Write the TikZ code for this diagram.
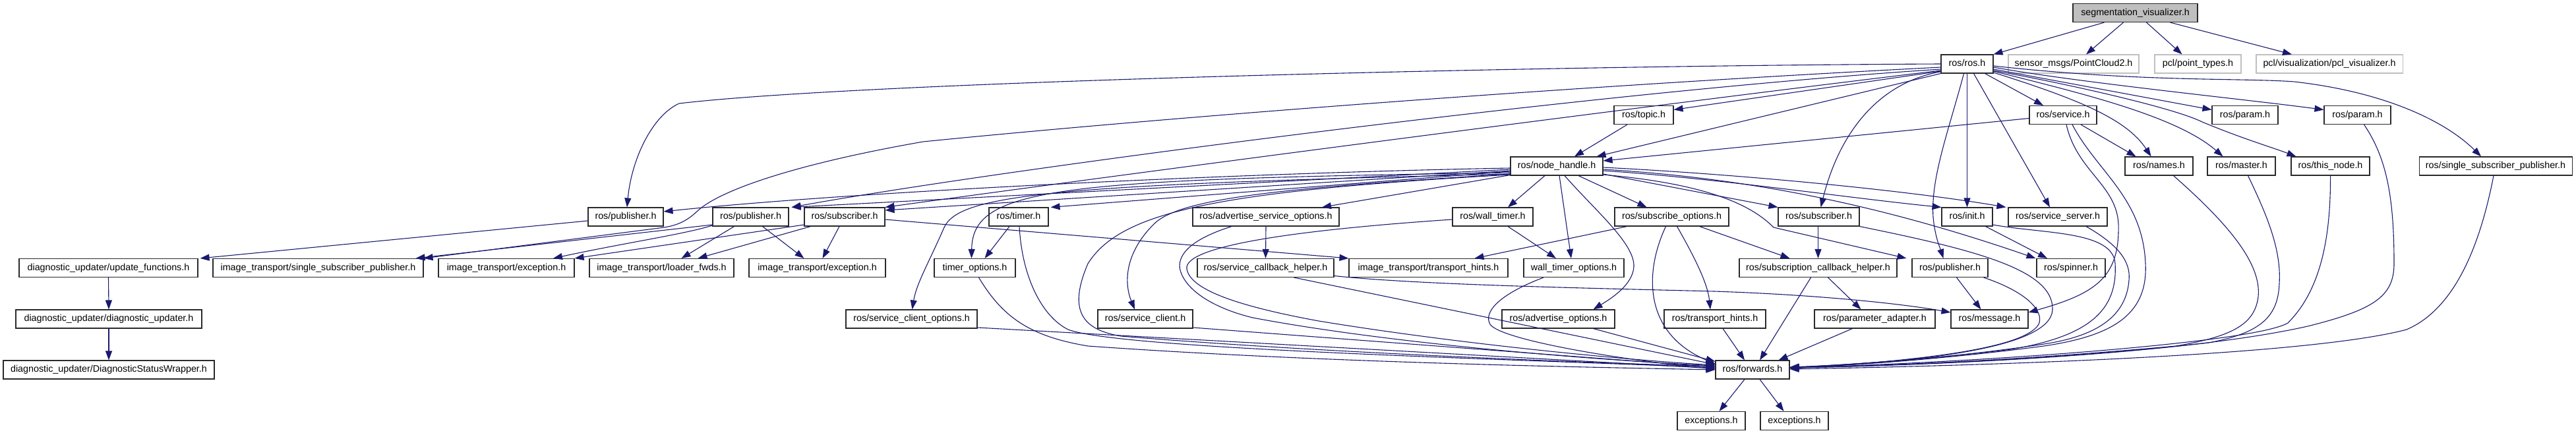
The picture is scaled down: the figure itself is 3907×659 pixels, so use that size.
\documentclass[tikz,border=0pt]{standalone}
\usepackage{fontspec}
\setmainfont{Liberation Sans}
\usetikzlibrary{arrows.meta,calc}
\definecolor{edgec}{HTML}{191970}
\definecolor{grayc}{HTML}{BFBFBF}
\definecolor{bordc}{HTML}{2A2A2A}
\begin{document}
\begin{tikzpicture}[x=1pt,y=-1pt,
  hnode/.style={draw=bordc, line width=1.1pt, fill=white, minimum height=28pt, inner xsep=1pt, inner ysep=0pt, text height=10.3pt, text depth=3pt, font=\fontsize{14.3}{17}\selectfont},
  gnode/.style={hnode, draw=grayc},
  rnode/.style={hnode, fill=grayc},
  dep/.style={draw=edgec, line width=1.1pt, -{Triangle[length=14pt,width=10pt]}}]
\useasboundingbox (0,0) rectangle (3907,659);
% row 0
\node[rnode, minimum width=189pt] (seg) at (3238.5,19.5) {segmentation\_visualizer.h};
% row 1
\node[hnode, minimum width=79pt] (ros) at (2983.5,97) {ros/ros.h};
\node[gnode, minimum width=198pt] (pc2) at (3145,97) {sensor\_msgs/PointCloud2.h};
\node[gnode, minimum width=131pt] (pt) at (3333.5,97) {pcl/point\_types.h};
\node[gnode, minimum width=222pt] (pclvis) at (3533,97) {pcl/visualization/pcl\_visualizer.h};
% row 2
\node[hnode, minimum width=90pt] (topic) at (2493,174.5) {ros/topic.h};
\node[hnode, minimum width=102pt] (service) at (3129,174.5) {ros/service.h};
\node[hnode, minimum width=100pt] (paramA) at (3405,174.5) {ros/param.h};
\node[hnode, minimum width=101pt] (paramB) at (3575.5,174.5) {ros/param.h};
% row 3
\node[hnode, minimum width=140pt] (nh) at (2361,252) {ros/node\_handle.h};
\node[hnode, minimum width=103pt] (names) at (3274.5,252) {ros/names.h};
\node[hnode, minimum width=103pt] (master) at (3399.5,252) {ros/master.h};
\node[hnode, minimum width=119pt] (thisnode) at (3534.5,252) {ros/this\_node.h};
\node[hnode, minimum width=232pt] (ssp) at (3785,252) {ros/single\_subscriber\_publisher.h};
% row 4
\node[hnode, minimum width=114pt] (pubA) at (949,329) {ros/publisher.h};
\node[hnode, minimum width=115pt] (pubB) at (1138.5,329) {ros/publisher.h};
\node[hnode, minimum width=122pt] (subB) at (1281,329) {ros/subscriber.h};
\node[hnode, minimum width=90pt] (timer) at (1545,329) {ros/timer.h};
\node[hnode, minimum width=222pt] (aso) at (1920,329) {ros/advertise\_service\_options.h};
\node[hnode, minimum width=122pt] (walltimer) at (2264,329) {ros/wall\_timer.h};
\node[hnode, minimum width=173pt] (subopts) at (2535.5,329) {ros/subscribe\_options.h};
\node[hnode, minimum width=123pt] (subC) at (2758.5,329) {ros/subscriber.h};
\node[hnode, minimum width=77pt] (init) at (2983.5,329) {ros/init.h};
\node[hnode, minimum width=150pt] (srvsrv) at (3121,329) {ros/service\_server.h};
% row 5
\node[hnode, minimum width=271pt] (updfunc) at (164.5,406.5) {diagnostic\_updater/update\_functions.h};
\node[hnode, minimum width=319pt] (itssp) at (482.5,406.5) {image\_transport/single\_subscriber\_publisher.h};
\node[hnode, minimum width=206pt] (itexcA) at (768,406.5) {image\_transport/exception.h};
\node[hnode, minimum width=219pt] (itloader) at (1003.5,406.5) {image\_transport/loader\_fwds.h};
\node[hnode, minimum width=207pt] (itexcB) at (1239.5,406.5) {image\_transport/exception.h};
\node[hnode, minimum width=123pt] (timeropts) at (1478.5,406.5) {timer\_options.h};
\node[hnode, minimum width=207pt] (srvcb) at (1919.5,406.5) {ros/service\_callback\_helper.h};
\node[hnode, minimum width=241pt] (itth) at (2166.5,406.5) {image\_transport/transport\_hints.h};
\node[hnode, minimum width=152pt] (wto) at (2387,406.5) {wall\_timer\_options.h};
\node[hnode, minimum width=239pt] (subcb) at (2757.5,406.5) {ros/subscription\_callback\_helper.h};
\node[hnode, minimum width=115pt] (pubC) at (2957.5,406.5) {ros/publisher.h};
\node[hnode, minimum width=104pt] (spinner) at (3141,406.5) {ros/spinner.h};
% row 6
\node[hnode, minimum width=282pt] (diagupd) at (165,484) {diagnostic\_updater/diagnostic\_updater.h};
\node[hnode, minimum width=199pt] (sco) at (1382.5,484) {ros/service\_client\_options.h};
\node[hnode, minimum width=144pt] (sclient) at (1737,484) {ros/service\_client.h};
\node[hnode, minimum width=171pt] (advopts) at (2363.5,484) {ros/advertise\_options.h};
\node[hnode, minimum width=154pt] (rth) at (2601,484) {ros/transport\_hints.h};
\node[hnode, minimum width=183pt] (padapt) at (2843.5,484) {ros/parameter\_adapter.h};
\node[hnode, minimum width=117pt] (message) at (3017.5,484) {ros/message.h};
% row 7
\node[hnode, minimum width=320pt] (dsw) at (165,561) {diagnostic\_updater/DiagnosticStatusWrapper.h};
\node[hnode, minimum width=112pt] (fwd) at (2658,561) {ros/forwards.h};
% row 8
\node[hnode, minimum width=103pt] (excA) at (2595.5,638.5) {exceptions.h};
\node[hnode, minimum width=103pt] (excB) at (2721.5,638.5) {exceptions.h};

% ---- edges from the root
\draw[dep] ($(seg.south)+(-47,0)$) -- (ros.north east);
\draw[dep] ($(seg.south)+(-18,0)$) -- ($(pc2.north)+(19,0)$);
\draw[dep] ($(seg.south)+(17,0)$) -- ($(pt.north)+(-24,0)$);
\draw[dep] ($(seg.south)+(53,0)$) -- ($(pclvis.north)+(-57,0)$);

% ---- edges from ros/ros.h
\draw[dep] (ros.west) .. controls (2300,100) and (1300,125) .. (1030,157) .. controls (990,175) and (958,240) .. ($(pubA.north)+(2,0)$);
\draw[dep] ($(ros.west)+(0,5)$) .. controls (2300,135) and (1700,185) .. (1400,215) .. controls (1200,250) and (1090,290) .. (1058,320) .. controls (1040,337) and (1025,343) .. (1000,346) -- (itssp.north east);
\draw[dep] ($(ros.west)+(0,8)$) .. controls (2400,140) and (1500,260) .. ($(pubB.north east)+(4,0)$);
\draw[dep] ($(ros.west)+(0,10)$) .. controls (2500,160) and (1700,265) .. (subB.north east);
\draw[dep] ($(ros.west)+(0,11)$) -- ($(topic.east)+(0,-8)$);
\draw[dep] (ros.south west) -- ($(nh.north east)+(-10,0)$);
\draw[dep] ($(ros.south east)+(-13,0)$) -- ($(service.north)+(-30,0)$);
\draw[dep] ($(ros.south west)+(1,-3)$) .. controls (2850,125) and (2790,200) .. ($(subC.north)+(3,0)$);
\draw[dep] (ros.south) -- (init.north);
\draw[dep] ($(ros.south)+(-5,0)$) .. controls (2955,200) and (2928,270) .. (2932,330) .. controls (2935,360) and (2942,375) .. ($(pubC.north)+(-10,0)$);
\draw[dep] ($(ros.south)+(10,0)$) -- ($(srvsrv.north)+(-12,0)$);
\draw[dep] ($(ros.east)+(0,13)$) .. controls (3150,150) and (3225,180) .. ($(names.north)+(-12,0)$);
\draw[dep] ($(ros.east)+(0,8)$) -- ($(paramA.west)+(0,-8)$);
\draw[dep] ($(ros.east)+(0,5)$) .. controls (3150,125) and (3400,150) .. ($(paramB.west)+(0,-8)$);
\draw[dep] ($(ros.east)+(0,11)$) .. controls (3150,140) and (3300,175) .. ($(master.north)+(-28,0)$);
\draw[dep] ($(ros.east)+(0,10)$) .. controls (3150,130) and (3300,165) .. (3340,185) .. controls (3400,210) and (3450,225) .. ($(thisnode.north west)+(8,0)$);
\draw[dep] ($(ros.east)+(0,3)$) .. controls (3250,125) and (3400,118) .. (3480,124) .. controls (3620,140) and (3710,185) .. ($(ssp.north)+(-22,0)$);

% ---- topic, service
\draw[dep] ($(topic.south)+(-25,0)$) -- ($(nh.north)+(27,0)$);
\draw[dep] ($(service.west)+(0,5)$) -- ($(nh.east)+(0,-8)$);
\draw[dep] ($(service.south)+(27,0)$) -- ($(names.north)+(-35,0)$);
\draw[dep] ($(service.south)+(5,0)$) .. controls (3150,260) and (3210,280) .. (3213,340) .. controls (3215,420) and (3180,445) .. ($(message.east)+(0,-10)$);
\draw[dep] ($(service.south)+(14,0)$) .. controls (3180,260) and (3250,300) .. (3254,400) .. controls (3258,480) and (3200,510) .. (3100,525) .. controls (2950,545) and (2800,555) .. ($(fwd.east)+(0,-3)$);

% ---- edges from ros/node_handle.h
\draw[dep] ($(nh.west)+(0,3)$) .. controls (1900,262) and (1300,290) .. ($(pubA.east)+(0,-8)$);
\draw[dep] ($(nh.west)+(0,5)$) -- ($(pubB.north east)+(4,0)$);
\draw[dep] ($(nh.west)+(0,7)$) -- ($(subB.east)+(0,-10)$);
\draw[dep] ($(nh.west)+(0,8)$) -- ($(timer.north east)+(3,0)$);
\draw[dep] ($(nh.west)+(0,10)$) .. controls (1600,272) and (1475,285) .. ($(timeropts.north)+(-5,0)$);
\draw[dep] ($(nh.west)+(0,12)$) .. controls (1600,280) and (1455,295) .. (1432,345) .. controls (1408,400) and (1390,430) .. ($(sco.north)+(1,0)$);
\draw[dep] ($(nh.west)+(0,12)$) .. controls (1950,285) and (1790,300) .. (1750,340) .. controls (1705,385) and (1705,430) .. ($(sclient.north)+(-16,0)$);
\draw[dep] ($(nh.west)+(0,13)$) .. controls (1850,290) and (1700,320) .. (1650,400) .. controls (1620,470) and (1640,500) .. (1700,510) .. controls (2000,535) and (2400,550) .. ($(fwd.west)+(0,-5)$);
\draw[dep] ($(nh.south west)+(0,-1)$) -- ($(aso.north)+(85,0)$);
\draw[dep] ($(nh.south)+(-18,0)$) -- ($(walltimer.north)+(23,0)$);
\draw[dep] ($(nh.south)+(4,0)$) -- ($(wto.north)+(-4,0)$);
\draw[dep] ($(nh.south)+(12,0)$) .. controls (2420,320) and (2480,370) .. (2478,405) .. controls (2476,432) and (2445,452) .. ($(advopts.north)+(53,0)$);
\draw[dep] ($(nh.south)+(33,0)$) -- ($(subopts.north)+(-38,0)$);
\draw[dep] ($(nh.east)+(0,12)$) -- (subC.north west);
\draw[dep] ($(nh.east)+(0,7)$) .. controls (2600,270) and (2800,300) .. (init.north west);
\draw[dep] ($(nh.east)+(0,2)$) .. controls (2650,265) and (2900,290) .. ($(srvsrv.north west)+(-3,0)$);
\draw[dep] ($(nh.east)+(0,13)$) .. controls (2600,280) and (2660,315) .. (2690,345) -- ($(pubC.north west)+(-8,0)$);
\draw[dep] ($(nh.east)+(0,5)$) .. controls (2650,270) and (2850,310) .. ($(spinner.north west)+(-1,0)$);

% ---- left part
\draw[dep] ($(pubA.west)+(0,6)$) -- ($(updfunc.north east)+(3,0)$);
\draw[dep] (updfunc.south) -- (diagupd.north);
\draw[dep] (diagupd.south) -- (dsw.north);
\draw[dep] ($(pubB.west)+(0,12)$) -- ($(itssp.north east)+(-12,0)$);
\draw[dep] ($(pubB.west)+(0,13)$) .. controls (1040,355) and (950,368) .. ($(itexcA.north)+(71,0)$);
\draw[dep] ($(pubB.south)+(-25,0)$) -- ($(itloader.north)+(30,0)$);
\draw[dep] ($(pubB.south)+(18,0)$) -- ($(itexcB.north)+(-20,0)$);
\draw[dep] ($(subB.west)+(0,12)$) -- (itexcA.north east);
\draw[dep] ($(subB.south west)+(10,0)$) -- ($(itloader.north)+(55,0)$);
\draw[dep] ($(subB.south)+(-8,0)$) -- ($(itexcB.north)+(8,0)$);
\draw[dep] ($(subB.east)+(0,4)$) -- (itth.north west);
\draw[dep] ($(timer.south)+(-14,0)$) -- ($(timeropts.north)+(15,0)$);
\draw[dep] ($(timer.south)+(1,0)$) .. controls (1550,420) and (1580,480) .. (1620,500) .. controls (1700,530) and (2300,545) .. ($(fwd.west)+(0,-3)$);
\draw[dep] ($(timeropts.south)+(6,0)$) .. controls (1520,480) and (1560,510) .. (1650,525) .. controls (2000,550) and (2400,557) .. (fwd.west);
\draw[dep] ($(sco.east)+(0,13)$) -- ($(fwd.west)+(0,-2)$);
\draw[dep] ($(sclient.east)+(0,13)$) -- ($(fwd.west)+(0,-4)$);
\draw[dep] ($(aso.south)+(-52,0)$) .. controls (1800,365) and (1785,390) .. (1790,410) .. controls (1800,445) and (1850,470) .. (1900,482) .. controls (2100,520) and (2400,545) .. ($(fwd.west)+(0,-6)$);
\draw[dep] (aso.south) -- (srvcb.north);
\draw[dep] ($(srvcb.east)+(0,12)$) .. controls (2150,432) and (2400,437) .. (2600,442) .. controls (2750,447) and (2880,460) .. ($(message.west)+(0,-10)$);
\draw[dep] ($(srvcb.south)+(43,0)$) -- ($(fwd.west)+(0,-8)$);
\draw[dep] ($(walltimer.west)+(0,4)$) .. controls (1950,350) and (1795,375) .. (1800,408) .. controls (1805,440) and (1880,465) .. (2000,487) .. controls (2200,520) and (2450,545) .. ($(fwd.west)+(0,-7)$);
\draw[dep] ($(walltimer.south)+(23,0)$) -- ($(wto.north)+(-27,0)$);
\draw[dep] ($(wto.south)+(-46,0)$) .. controls (2270,448) and (2250,475) .. (2260,492) .. controls (2275,515) and (2450,545) .. ($(fwd.west)+(0,-1)$);
\draw[dep] ($(advopts.south)+(53,0)$) -- ($(fwd.north west)+(0,2)$);

% ---- subscribe options and right part
\draw[dep] ($(subopts.south)+(-68,0)$) -- ($(itth.north)+(70,0)$);
\draw[dep] ($(subopts.south)+(8,0)$) .. controls (2570,390) and (2590,430) .. ($(rth.north)+(-7,0)$);
\draw[dep] ($(subopts.south)+(-9,0)$) .. controls (2495,410) and (2490,505) .. ($(fwd.west)+(0,-9)$);
\draw[dep] ($(subopts.south east)+(-45,0)$) -- ($(subcb.north)+(-43,0)$);
\draw[dep] ($(subC.south)+(-1,0)$) -- (subcb.north);
\draw[dep] (subC.south east) .. controls (3000,380) and (3115,410) .. (3113,470) .. controls (3110,530) and (2900,550) .. ($(fwd.east)+(0,-4)$);
\draw[dep] ($(subcb.south)+(15,0)$) -- ($(padapt.north)+(-21,0)$);
\draw[dep] ($(subcb.south)+(-11,0)$) -- ($(fwd.north)+(11,0)$);
\draw[dep] ($(padapt.south)+(-34,0)$) -- ($(fwd.north east)+(-17,0)$);
\draw[dep] ($(rth.south)+(12,0)$) -- ($(fwd.north)+(-12,0)$);
\draw[dep] ($(pubC.south)+(10,0)$) -- ($(message.north)+(-13,0)$);
\draw[dep] ($(pubC.south east)+(-7,0)$) .. controls (3080,445) and (3100,475) .. (3092,492) .. controls (3070,530) and (2900,548) .. ($(fwd.east)+(0,-2)$);
\draw[dep] ($(init.south)+(28,0)$) -- ($(spinner.north)+(-36,0)$);
\draw[dep] ($(init.east)+(0,12)$) .. controls (3100,355) and (3205,350) .. (3208,400) .. controls (3212,470) and (3170,510) .. (3050,530) .. controls (2900,548) and (2800,553) .. ($(fwd.east)+(0,-3)$);
\draw[dep] ($(srvsrv.south)+(43,0)$) .. controls (3210,370) and (3232,395) .. (3229,425) .. controls (3225,480) and (3180,510) .. (3100,522) .. controls (2950,545) and (2800,553) .. ($(fwd.east)+(0,-3)$);
\draw[dep] ($(names.south)+(22,0)$) .. controls (3380,340) and (3430,400) .. (3425,450) .. controls (3420,490) and (3390,510) .. (3300,525) .. controls (3050,548) and (2850,555) .. ($(fwd.east)+(0,-3)$);
\draw[dep] ($(master.south)+(10,0)$) .. controls (3440,330) and (3460,380) .. (3457,430) .. controls (3455,480) and (3430,505) .. (3350,520) .. controls (3100,548) and (2850,555) .. ($(fwd.east)+(0,-3)$);
\draw[dep] (thisnode.south) .. controls (3535,360) and (3520,440) .. (3470,490) .. controls (3420,520) and (3000,550) .. ($(fwd.east)+(0,-3)$);
\draw[dep] ($(paramB.south)+(10,0)$) .. controls (3620,240) and (3631,300) .. (3631,400) .. controls (3631,450) and (3600,470) .. (3500,495) .. controls (3300,540) and (2900,555) .. ($(fwd.east)+(0,-3)$);
\draw[dep] ($(ssp.south)+(-3,0)$) .. controls (3760,380) and (3720,470) .. (3650,500) .. controls (3500,540) and (3000,555) .. ($(fwd.east)+(0,-1)$);
\draw[dep] ($(fwd.south)+(-12,0)$) -- ($(excA.north)+(12,0)$);
\draw[dep] ($(fwd.south)+(11,0)$) -- ($(excB.north)+(-16,0)$);
\end{tikzpicture}
\end{document}
